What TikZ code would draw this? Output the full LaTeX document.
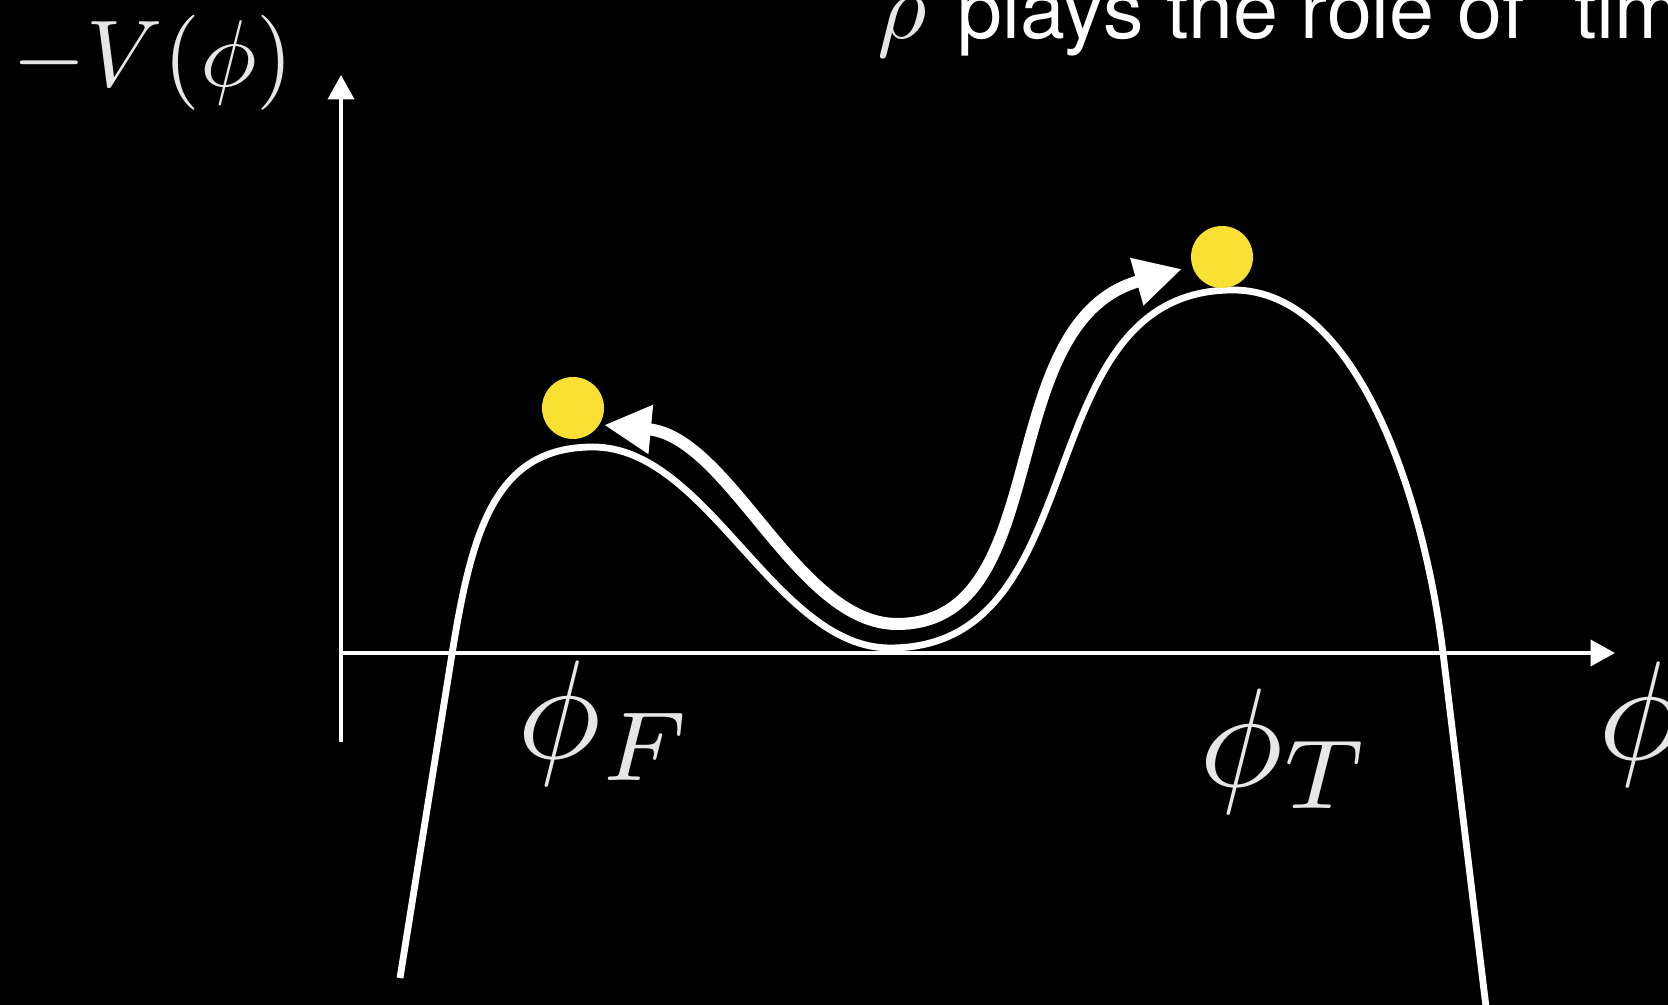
\RequirePackage{fix-cm}
\documentclass[tikz,border=0pt]{standalone}
\usepackage{fontspec}
\newfontfamily\heros{TeX Gyre Heros}
\usetikzlibrary{arrows.meta}
\definecolor{ballyellow}{RGB}{249,224,50}
\definecolor{labelgray}{RGB}{230,230,230}
\tikzset{
  axisline/.style={-{Triangle[length=0.245cm,width=0.26cm]},line width=0.04cm,draw=white},
  potline/.style={line width=0.068cm,draw=white},
  rollarr/.style={{Triangle[length=0.47cm,width=0.46cm]}-{Triangle[length=0.47cm,width=0.46cm]},line width=0.12cm,draw=white},
  ball/.style={circle,fill=ballyellow,minimum size=0.62cm,inner sep=0pt},
  mlabel/.style={text=labelgray,inner sep=0pt,anchor=base west,font=\fontsize{10}{12}\selectfont,scale=4,transform shape}
}
\begin{document}
\begin{tikzpicture}
  \fill[black] (0,0) rectangle (16.68,10.05);
  \useasboundingbox (0,0) rectangle (16.68,10.05);
  \clip (0,0) rectangle (16.68,10.05);

  % axes
  \coordinate (O) at (3.41,3.52);
  \coordinate (ybot) at (3.41,2.63);
  \coordinate (ytop) at (3.41,9.30);
  \coordinate (xend) at (16.15,3.52);
  \draw[axisline] (ybot) -- (ytop);
  \draw[axisline] (O) -- (xend);

  % potential -V(phi): false vacuum hill, well, true vacuum hill
  \coordinate (potstart) at (4.00,0.27);
  \coordinate (hillF) at (5.93,5.58);
  \coordinate (well) at (8.90,3.57);
  \coordinate (hillT) at (12.33,7.15);
  \coordinate (potend) at (14.87,-0.10);
  \draw[potline] (potstart) -- (4.52,3.51)
    .. controls (4.72,4.75) and (4.95,5.58) .. (hillF)
    .. controls (7.08,5.58) and (7.75,3.57) .. (well)
    .. controls (11.00,3.57) and (10.23,7.15) .. (hillT)
    .. controls (13.60,7.15) and (14.25,5.00) .. (14.43,3.52)
    -- (potend);

  % rolling path between the two hills
  \coordinate (rollF) at (6.04,5.80);
  \coordinate (rollmin) at (8.97,3.81);
  \coordinate (rollT) at (11.82,7.36);
  \draw[rollarr] (rollF)
    .. controls (7.30,5.68) and (7.97,3.81) .. (rollmin)
    .. controls (10.57,3.81) and (9.90,6.82) .. (rollT);

  % balls
  \node[ball] (ballF) at (5.73,5.97) {};
  \node[ball] (ballT) at (12.22,7.48) {};

  % labels
  \node[mlabel,scale=0.675] (vlab) at (0.11,9.18) {$-V(\phi)$};
  \node[mlabel] (phiF) at (5.15,2.46) {$\phi_F$};
  \node[mlabel] (phiT) at (11.97,2.18) {$\phi_T$};
  \node[mlabel] (phiX) at (15.96,2.45) {$\phi$};
  \node[mlabel,scale=0.68] (rho) at (8.76,9.66) {$\rho$};
  \node[text=white,inner sep=0pt,anchor=base west,font=\heros\fontsize{23}{27}\selectfont] (timelab) at (9.57,9.66)
    {plays the role of “time”};
\end{tikzpicture}
\end{document}
